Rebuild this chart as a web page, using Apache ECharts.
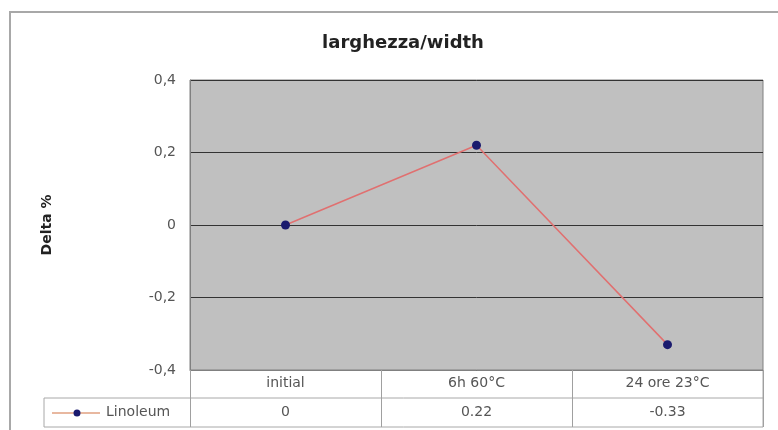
<!DOCTYPE html>
<html>
<head>
<meta charset="utf-8">
<script src="https://cdn.jsdelivr.net/npm/echarts@6/dist/echarts.min.js"></script>
<style>
html,body{margin:0;padding:0;background:#fff;}
#c{width:778px;height:430px;}
</style>
</head>
<body>
<div id="c"></div>
<script>
const title = 'larghezza/width';
const yAxisName = 'Delta %';
const seriesName = 'Linoleum';
const categories = ['initial', '6h 60°C', '24 ore 23°C'];
const linoleum = [0, 0.22, -0.33];
const tableLabels = ['0', '0.22', '-0.33'];
const yTicks = [-0.4, -0.2, 0, 0.2, 0.4];

const chart = echarts.init(document.getElementById('c'), null, {renderer: 'canvas'});
const font = '"DejaVu Sans", Arial, sans-serif';
chart.setOption({
  backgroundColor: '#ffffff',
  animation: false,
  title: {
    text: title, left: 398, top: 29, textAlign: 'center',
    textStyle: {fontFamily: font, fontSize: 18, fontWeight: 'bold', color: '#222'}
  },
  grid: {left: 190, top: 80, width: 573, height: 290, containLabel: false,
    show: true, backgroundColor: '#c0c0c0', borderColor: '#808080', borderWidth: 1},
  xAxis: [{
    type: 'category', data: categories, position: 'bottom', boundaryGap: true,
    axisLine: {show: true, onZero: false, lineStyle: {color: '#808080'}},
    axisTick: {show: true, inside: false, length: 57, lineStyle: {color: '#a0a0a0'}},
    axisLabel: {margin: 6, fontFamily: font, fontSize: 14, color: '#555'},
    splitLine: {show: false}
  }, {
    type: 'category', data: categories, position: 'bottom', offset: 28, boundaryGap: true,
    axisLine: {show: false, onZero: false}, axisTick: {show: false},
    axisLabel: {margin: 7, fontFamily: font, fontSize: 14, color: '#555',
      formatter: (v, i) => tableLabels[i]}
  }],
  yAxis: {
    type: 'value', min: -0.4, max: 0.4, interval: 0.2,
    name: yAxisName, nameLocation: 'middle', nameGap: 136, nameRotate: 90,
    nameTextStyle: {fontFamily: font, fontSize: 14, fontWeight: 'bold', color: '#222'},
    axisLine: {show: true, lineStyle: {color: '#808080'}},
    axisTick: {show: false},
    axisLabel: {margin: 14, fontFamily: font, fontSize: 14, color: '#555',
      formatter: v => {
        const t = yTicks.find(x => Math.abs(x - v) < 1e-9);
        return (t === undefined ? v : t).toString().replace('.', ',');
      }},
    splitLine: {show: true, lineStyle: {color: '#333', width: 1}}
  },
  series: [{
    name: seriesName, type: 'line', data: linoleum,
    symbol: 'circle', symbolSize: 9,
    itemStyle: {color: '#1a1a6e'},
    lineStyle: {color: '#e07070', width: 1.5}
  }],
  graphic: [
    {type: 'rect', shape: {x: 10, y: 12, width: 800, height: 440}, style: {fill: 'none', stroke: '#a8a8a8', lineWidth: 2}},
    {type: 'line', shape: {x1: 44, y1: 398, x2: 763, y2: 398}, style: {stroke: '#a8a8a8', lineWidth: 1}},
    {type: 'line', shape: {x1: 44, y1: 427, x2: 763, y2: 427}, style: {stroke: '#a8a8a8', lineWidth: 1}},
    {type: 'line', shape: {x1: 44, y1: 398, x2: 44, y2: 427}, style: {stroke: '#a8a8a8', lineWidth: 1}},
    {type: 'line', shape: {x1: 763, y1: 370, x2: 763, y2: 427}, style: {stroke: '#a8a8a8', lineWidth: 1}},
    {type: 'line', shape: {x1: 52, y1: 413, x2: 100, y2: 413}, style: {stroke: '#e0a080', lineWidth: 1.5}},
    {type: 'circle', shape: {cx: 77, cy: 413, r: 3.5}, style: {fill: '#1a1a6e'}},
    {type: 'text', x: 106, y: 405, style: {text: seriesName, font: '14px ' + font, fill: '#555'}}
  ]
});
</script>
</body>
</html>
